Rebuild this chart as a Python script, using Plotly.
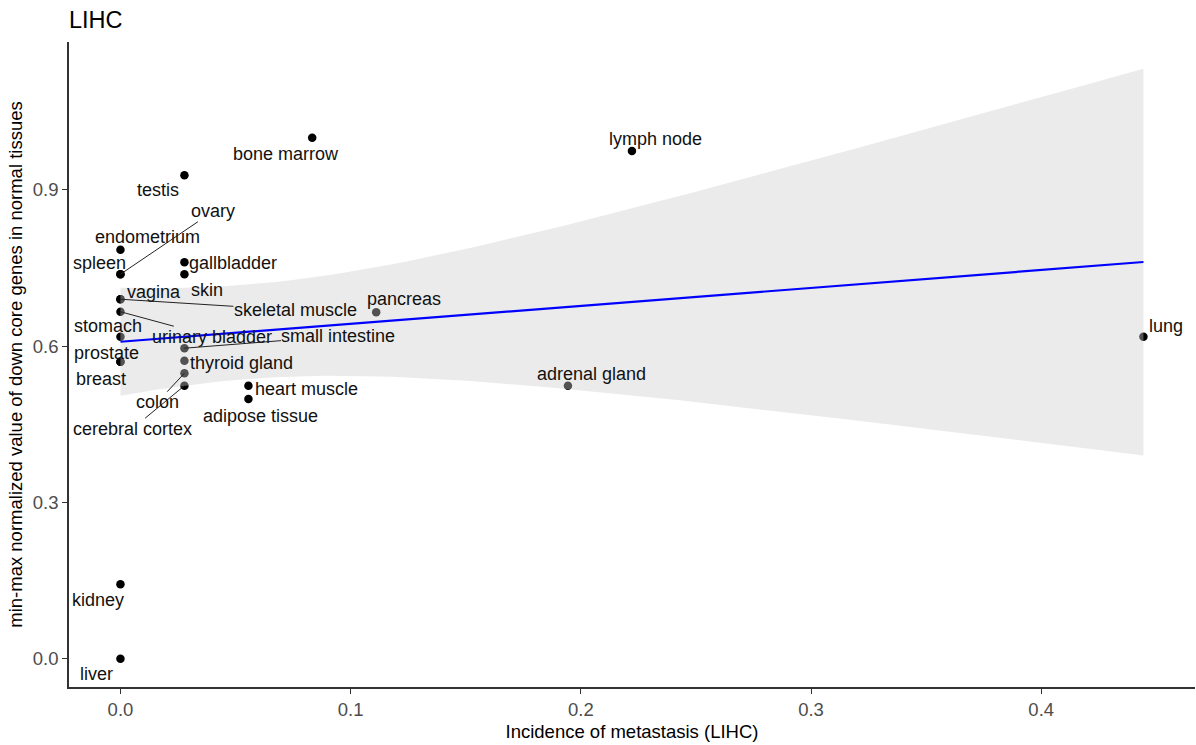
import numpy as np
import plotly.graph_objects as go

# ---- data ----
tissues = ["liver", "kidney", "endometrium", "spleen", "ovary", "vagina",
           "skeletal muscle", "urinary bladder", "stomach", "prostate", "breast",
           "testis", "gallbladder", "skin", "small intestine", "thyroid gland",
           "colon", "cerebral cortex", "heart muscle", "adipose tissue",
           "bone marrow", "pancreas", "adrenal gland", "lymph node", "lung"]
incidence = [0.0, 0.0, 0.0, 0.0, 0.0, 0.0,
             0.0, 0.0, 0.0, 0.0, 0.0,
             0.0278, 0.0278, 0.0278, 0.0278, 0.0278,
             0.0278, 0.0278, 0.0556, 0.0556,
             0.0833, 0.1111, 0.1944, 0.2222, 0.4444]
norm_value = [0.0, 0.143, 0.785, 0.738, 0.738, 0.690,
              0.690, 0.666, 0.618, 0.570, 0.570,
              0.928, 0.761, 0.738, 0.596, 0.572,
              0.548, 0.524, 0.524, 0.4985,
              1.0, 0.665, 0.524, 0.9745, 0.618]
x_ticks = [0.0, 0.1, 0.2, 0.3, 0.4]
x_tick_labels = ["0.0", "0.1", "0.2", "0.3", "0.4"]
y_ticks = [0.0, 0.3, 0.6, 0.9]
y_tick_labels = ["0.0", "0.3", "0.6", "0.9"]

# ---- label placement (pixel offsets of label centre from its point; True = segment) ----
label_pos = {
    "bone marrow": (-26, 16, False), "testis": (-26, 15, False),
    "lymph node": (24, -12, False), "ovary": (93, -63, True),
    "endometrium": (27, -13, False), "spleen": (-21, -11, False),
    "gallbladder": (49, 1, False), "skin": (23, 16, False),
    "vagina": (34, -7, False), "skeletal muscle": (175, 11, True),
    "pancreas": (28, -13, False), "stomach": (-12, -11, False),
    "urinary bladder": (92, 25, True), "small intestine": (154, -12, True),
    "prostate": (-14, -9, False), "breast": (-19, 17, False),
    "thyroid gland": (57, 2, False), "heart muscle": (58, 3, False),
    "adipose tissue": (12, 17, False), "colon": (-27, 29, True),
    "cerebral cortex": (-52, 43, True), "adrenal gland": (24, -12, False),
    "lung": (23, -11, False), "kidney": (-22, 16, False), "liver": (-24, 15, False),
}

# ---- linear model fit with 95% confidence band (as geom_smooth(method="lm")) ----
xa = np.array(incidence)
ya = np.array(norm_value)
n = len(xa)
slope, intercept = np.polyfit(xa, ya, 1)
resid = ya - (intercept + slope * xa)
s = np.sqrt(np.sum(resid ** 2) / (n - 2))
sxx = np.sum((xa - xa.mean()) ** 2)
t_crit = 2.0687  # t(0.975, df=23)
xs = np.linspace(xa.min(), xa.max(), 80)
fit = intercept + slope * xs
se = s * np.sqrt(1.0 / n + (xs - xa.mean()) ** 2 / sxx)
upper = fit + t_crit * se
lower = fit - t_crit * se

FONT = "Liberation Sans, Arial, sans-serif"

fig = go.Figure()
fig.add_trace(go.Scatter(x=incidence, y=norm_value, mode="markers",
                         marker=dict(color="black", size=8.5),
                         hoverinfo="skip", showlegend=False))
fig.add_trace(go.Scatter(x=list(xs) + list(xs[::-1]),
                         y=list(upper) + list(lower[::-1]),
                         fill="toself", fillcolor="rgba(205,205,205,0.4)",
                         line=dict(width=0), mode="lines",
                         hoverinfo="skip", showlegend=False))
fig.add_trace(go.Scatter(x=xs, y=fit, mode="lines",
                         line=dict(color="#0000FF", width=2.2),
                         hoverinfo="skip", showlegend=False))

annotations = []
for name, xv, yv in zip(tissues, incidence, norm_value):
    dx, dy, seg = label_pos[name]
    if seg:
        annotations.append(dict(x=xv, y=yv, xref="x", yref="y", text=name,
                                showarrow=True, ax=dx, ay=dy, arrowhead=0,
                                arrowwidth=1, arrowcolor="#222222", standoff=0,
                                borderpad=0,
                                font=dict(family=FONT, size=18, color="#111111")))
    else:
        annotations.append(dict(x=xv, y=yv, xref="x", yref="y", text=name,
                                showarrow=False, xshift=dx, yshift=-dy,
                                font=dict(family=FONT, size=18, color="#111111")))

fig.update_layout(
    width=1196, height=745,
    margin=dict(l=69, r=1, t=42, b=58),
    paper_bgcolor="white", plot_bgcolor="white",
    title=dict(text="LIHC", x=69 / 1196, xref="container", xanchor="left",
               y=1 - 20 / 745, yanchor="middle",
               font=dict(family=FONT, size=23.5, color="black")),
    annotations=annotations,
    showlegend=False,
)
fig.update_xaxes(range=[-0.02235, 0.4668], tickvals=x_ticks, ticktext=x_tick_labels,
                 showgrid=False, zeroline=False, showline=True, linecolor="#333333",
                 linewidth=1.5, ticks="outside", ticklen=5, tickcolor="#333333",
                 tickfont=dict(family=FONT, size=18.5, color="#4D4D4D"),
                 title=dict(text="Incidence of metastasis (LIHC)", standoff=6,
                            font=dict(family=FONT, size=18.5, color="black")))
fig.update_yaxes(range=[-0.0543, 1.1837], tickvals=y_ticks, ticktext=y_tick_labels,
                 showgrid=False, zeroline=False, showline=True, linecolor="#333333",
                 linewidth=1.5, ticks="outside", ticklen=5, tickcolor="#333333",
                 tickfont=dict(family=FONT, size=18.5, color="#4D4D4D"),
                 title=dict(text="min-max normalized value of down core genes in normal tissues",
                            standoff=5,
                            font=dict(family=FONT, size=18.5, color="black")))

fig.write_html("out.html", config={"displayModeBar": False},
               post_script="document.body.style.margin='0px';document.body.style.overflow='hidden';")
